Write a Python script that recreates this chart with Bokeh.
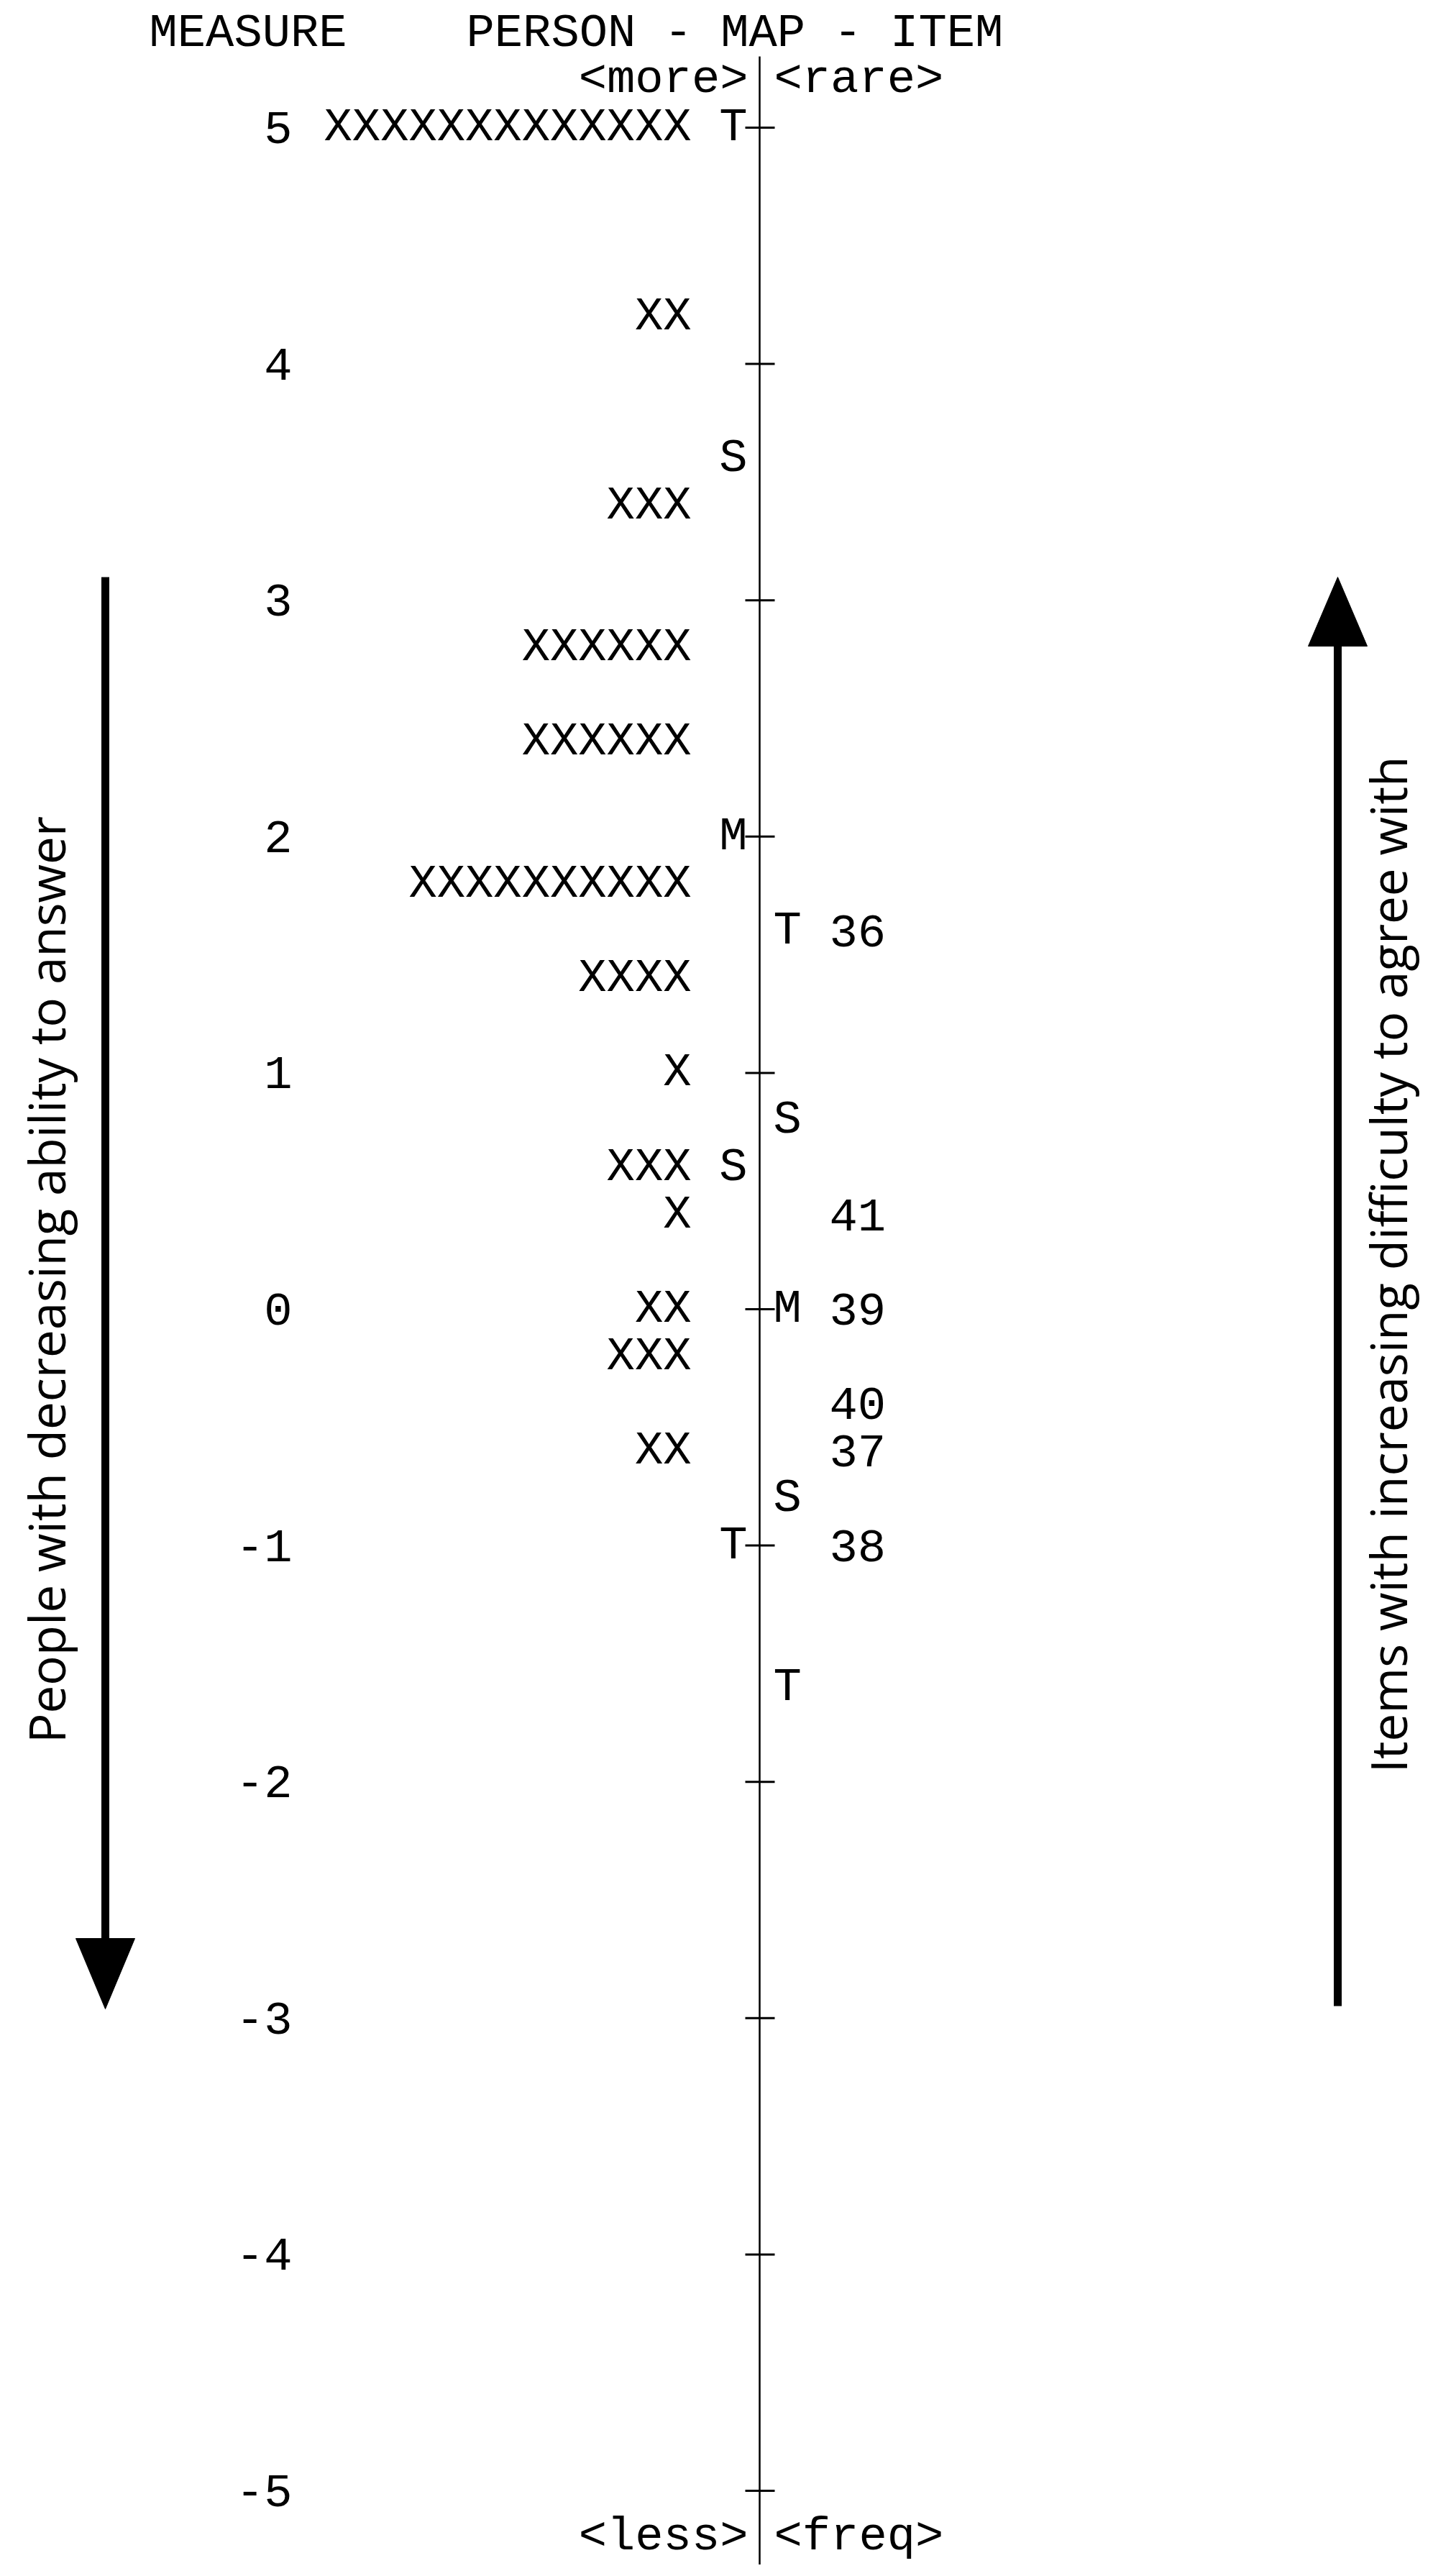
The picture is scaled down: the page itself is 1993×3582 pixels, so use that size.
import math
from bokeh.plotting import figure
from bokeh.models import Range1d, ColumnDataSource
from bokeh.core.properties import value
from bokeh.embed import file_html
from bokeh.resources import INLINE

# ---------------- data ----------------
tick_values = [5, 4, 3, 2, 1, 0, -1, -2, -3, -4, -5]
tick_labels = ["5", "4", "3", "2", "1", "0", "-1", "-2", "-3", "-4", "-5"]

person_measure = [5.0, 4.2, 3.4, 2.8, 2.4, 1.8, 1.4, 1.0, 0.6, 0.4, 0.0, -0.2, -0.6]
person_count = [13, 2, 3, 6, 6, 10, 4, 1, 3, 1, 2, 3, 2]

person_stat_measure = [5.0, 3.6, 2.0, 0.6, -1.0]
person_stat_label = ["T", "S", "M", "S", "T"]

item_stat_measure = [1.6, 0.8, 0.0, -0.8, -1.6]
item_stat_label = ["T", "S", "M", "S", "T"]

item_measure = [1.6, 0.4, 0.0, -0.4, -0.6, -1.0]
item_label = ["36", "41", "39", "40", "37", "38"]

# ---------------- layout ----------------
W, H = 1977, 3566
TOP_TICK_PX = 177.0      # image y of measure 5
UNIT_PX = 328.6          # pixels per logit


def m_of(img_y):
    """convert an image-pixel y position to the measure scale"""
    return 5 - (img_y - TOP_TICK_PX) / UNIT_PX


p = figure(width=W, height=H, output_backend="svg", toolbar_location=None,
           x_range=Range1d(0, W), y_range=Range1d(m_of(H), m_of(0)),
           min_border=0, x_axis_location=None, y_axis_location=None,
           outline_line_color=None)
p.grid.visible = False

MONO = value("Liberation Mono")
FS = "65.5px"
AXIS_X = 1056

# central axis line and ticks
p.segment(x0=[AXIS_X], y0=[m_of(78)], x1=[AXIS_X], y1=[m_of(3566)],
          line_color="black", line_width=2.5)
p.segment(x0=[AXIS_X - 20] * len(tick_values), y0=tick_values,
          x1=[AXIS_X + 21] * len(tick_values), y1=tick_values,
          line_color="black", line_width=3)

# tick labels
p.text(x=[406] * len(tick_values), y=tick_values, text=tick_labels,
       text_font=MONO, text_font_size=FS, text_align="right",
       text_baseline="middle", text_color="black")

# persons
person_src = ColumnDataSource(dict(y=person_measure,
                                   t=["X" * c for c in person_count]))
p.text(x=961, y="y", text="t", source=person_src,
       text_font=MONO, text_font_size=FS, text_align="right",
       text_baseline="middle", text_color="black")

# person statistics markers
p.text(x=[1039] * len(person_stat_measure), y=person_stat_measure,
       text=person_stat_label, text_font=MONO, text_font_size=FS,
       text_align="right", text_baseline="middle", text_color="black")

# item statistics markers
p.text(x=[1075] * len(item_stat_measure), y=item_stat_measure,
       text=item_stat_label, text_font=MONO, text_font_size=FS,
       text_align="left", text_baseline="middle", text_color="black")

# items
p.text(x=[1153] * len(item_measure), y=item_measure, text=item_label,
       text_font=MONO, text_font_size=FS, text_align="left",
       text_baseline="middle", text_color="black")

# headers
p.text(x=[207], y=[m_of(46)], text=["MEASURE"], text_font=MONO,
       text_font_size=FS, text_align="left", text_baseline="middle")
p.text(x=[648], y=[m_of(46)], text=["PERSON - MAP - ITEM"], text_font=MONO,
       text_font_size=FS, text_align="left", text_baseline="middle")
p.text(x=[1040], y=[m_of(110)], text=["<more>"], text_font=MONO,
       text_font_size=FS, text_align="right", text_baseline="middle")
p.text(x=[1076], y=[m_of(110)], text=["<rare>"], text_font=MONO,
       text_font_size=FS, text_align="left", text_baseline="middle")
p.text(x=[1040], y=[m_of(3527)], text=["<less>"], text_font=MONO,
       text_font_size=FS, text_align="right", text_baseline="middle")
p.text(x=[1076], y=[m_of(3527)], text=["<freq>"], text_font=MONO,
       text_font_size=FS, text_align="left", text_baseline="middle")

# side arrows: shaft + triangular head
LX, RX = 146, 1860
p.segment(x0=[LX], y0=[m_of(802)], x1=[LX], y1=[m_of(2705)],
          line_color="black", line_width=11)
p.patch(x=[LX - 41, LX + 41, LX], y=[m_of(2695), m_of(2695), m_of(2793)],
        fill_color="black", line_color="black", line_width=1)
p.segment(x0=[RX], y0=[m_of(2789)], x1=[RX], y1=[m_of(890)],
          line_color="black", line_width=11)
p.patch(x=[RX - 41, RX + 41, RX], y=[m_of(898), m_of(898), m_of(802)],
        fill_color="black", line_color="black", line_width=1)

# side captions
SANS = value("Open Sans")
p.text(x=[63], y=[m_of(1779)], text=["People with decreasing ability to answer"],
       angle=math.pi / 2, text_font=SANS, text_font_size="69px",
       text_align="center", text_baseline="middle", text_color="black")
p.text(x=[1929], y=[m_of(1758)], text=["Items with increasing difficulty to agree with"],
       angle=math.pi / 2, text_font=SANS, text_font_size="69px",
       text_align="center", text_baseline="middle", text_color="black")

open("out.html", "w").write(file_html(p, INLINE))
